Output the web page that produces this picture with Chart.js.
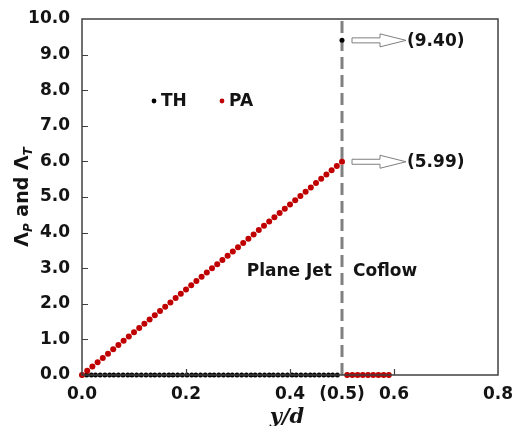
<!DOCTYPE html>
<html>
<head>
<meta charset="utf-8">
<script src="https://cdn.jsdelivr.net/npm/chart.js@4.4.0/dist/chart.umd.min.js"></script>
<style>
html, body { margin: 0; padding: 0; background: #fff; }
#wrap { width: 514px; height: 426px; }
</style>
</head>
<body>
<div id="wrap"><canvas id="chart"></canvas></div>
<script>
// PA series: plane jet part (0 to 0.5) then coflow part (0.51 to 0.59)
const paX = [0, 0.01, 0.02, 0.03, 0.04, 0.05, 0.06, 0.07, 0.08, 0.09,
    0.10, 0.11, 0.12, 0.13, 0.14, 0.15, 0.16, 0.17, 0.18, 0.19,
    0.20, 0.21, 0.22, 0.23, 0.24, 0.25, 0.26, 0.27, 0.28, 0.29,
    0.30, 0.31, 0.32, 0.33, 0.34, 0.35, 0.36, 0.37, 0.38, 0.39,
    0.40, 0.41, 0.42, 0.43, 0.44, 0.45, 0.46, 0.47, 0.48, 0.49, 0.50,
    0.51, 0.52, 0.53, 0.54, 0.55, 0.56, 0.57, 0.58, 0.59];
const paY = [0, 0.12, 0.24, 0.36, 0.48, 0.60, 0.72, 0.84, 0.96, 1.08,
    1.20, 1.32, 1.44, 1.56, 1.68, 1.80, 1.92, 2.04, 2.16, 2.28,
    2.40, 2.52, 2.64, 2.76, 2.88, 3.00, 3.11, 3.23, 3.35, 3.47,
    3.59, 3.71, 3.83, 3.95, 4.07, 4.19, 4.31, 4.43, 4.55, 4.67,
    4.79, 4.91, 5.03, 5.15, 5.27, 5.39, 5.51, 5.63, 5.75, 5.87, 5.99,
    0, 0, 0, 0, 0, 0, 0, 0, 0];

// TH series: zero across the jet, single value at the edge
const thX = [0, 0.009, 0.018, 0.026, 0.035, 0.044, 0.053, 0.061, 0.070, 0.079,
    0.088, 0.096, 0.105, 0.114, 0.123, 0.132, 0.140, 0.149, 0.158, 0.167,
    0.175, 0.184, 0.193, 0.202, 0.211, 0.219, 0.228, 0.237, 0.246, 0.254,
    0.263, 0.272, 0.281, 0.289, 0.298, 0.307, 0.316, 0.325, 0.333, 0.342,
    0.351, 0.360, 0.368, 0.377, 0.386, 0.395, 0.404, 0.412, 0.421, 0.430,
    0.439, 0.447, 0.456, 0.465, 0.474, 0.482, 0.491, 0.50];
const thY = [0, 0, 0, 0, 0, 0, 0, 0, 0, 0,
    0, 0, 0, 0, 0, 0, 0, 0, 0, 0,
    0, 0, 0, 0, 0, 0, 0, 0, 0, 0,
    0, 0, 0, 0, 0, 0, 0, 0, 0, 0,
    0, 0, 0, 0, 0, 0, 0, 0, 0, 0,
    0, 0, 0, 0, 0, 0, 0, 9.40];

const jetEdge = 0.5;
const xTicks = [0, 0.2, 0.4, 0.5, 0.6, 0.8];
const yTicks = [0, 1, 2, 3, 4, 5, 6, 7, 8, 9, 10];
const callouts = [9.40, 5.99];
const seriesNames = ['TH', 'PA'];
const regionNames = ['Plane Jet', 'Coflow'];

const textColor = '#141414';
const axisColor = '#404040';
const paColor = '#c00000';
const thColor = '#000000';
const sans = '"DejaVu Sans", sans-serif';

function toPoints(xs, ys) {
    return xs.map((x, i) => ({ x: x, y: ys[i] }));
}

const overlay = {
    id: 'overlay',
    afterDraw(chart) {
        const ctx = chart.ctx;
        const a = chart.chartArea;
        const xs = chart.scales.x;
        const ys = chart.scales.y;
        ctx.save();

        // frame
        ctx.strokeStyle = axisColor;
        ctx.lineWidth = 1.5;
        ctx.strokeRect(a.left, a.top, a.right - a.left, a.bottom - a.top);

        // inward tick marks
        ctx.lineWidth = 1.2;
        ctx.beginPath();
        yTicks.slice(1, -1).forEach(v => {
            const y = Math.round(ys.getPixelForValue(v)) + 0.5;
            ctx.moveTo(a.left, y);
            ctx.lineTo(a.left + 6, y);
        });
        [0.2, 0.4, 0.6].forEach(v => {
            const x = Math.round(xs.getPixelForValue(v)) + 0.5;
            ctx.moveTo(x, a.bottom);
            ctx.lineTo(x, a.bottom - 6);
        });
        ctx.stroke();

        // callout arrows
        const ex = xs.getPixelForValue(jetEdge);
        callouts.forEach(v => {
            const y = ys.getPixelForValue(v);
            const x0 = ex + 10, x1 = ex + 38, x2 = ex + 64;
            ctx.beginPath();
            ctx.moveTo(x0, y - 2.5);
            ctx.lineTo(x1, y - 2.5);
            ctx.lineTo(x1, y - 6.5);
            ctx.lineTo(x2, y);
            ctx.lineTo(x1, y + 6.5);
            ctx.lineTo(x1, y + 2.5);
            ctx.lineTo(x0, y + 2.5);
            ctx.closePath();
            ctx.fillStyle = '#fff';
            ctx.fill();
            ctx.strokeStyle = '#7f7f7f';
            ctx.lineWidth = 1;
            ctx.stroke();
            ctx.fillStyle = textColor;
            ctx.font = 'bold 17px ' + sans;
            ctx.textAlign = 'left';
            ctx.textBaseline = 'middle';
            ctx.fillText('(' + v.toFixed(2) + ')', x2 + 1, y + 1);
        });

        // region labels
        ctx.font = 'bold 17px ' + sans;
        ctx.fillStyle = textColor;
        ctx.textBaseline = 'middle';
        const ry = ys.getPixelForValue(2.9);
        ctx.textAlign = 'right';
        ctx.fillText(regionNames[0], ex - 10, ry);
        ctx.textAlign = 'left';
        ctx.fillText(regionNames[1], ex + 11, ry);

        // legend
        const ly = a.top + 82;
        [[a.left + 72, thColor], [a.left + 140, paColor]].forEach((d, i) => {
            ctx.beginPath();
            ctx.arc(d[0], ly, 2.4, 0, Math.PI * 2);
            ctx.fillStyle = d[1];
            ctx.fill();
            ctx.fillStyle = textColor;
            ctx.textAlign = 'left';
            ctx.font = 'bold 17px ' + sans;
            ctx.fillText(seriesNames[i], d[0] + 7, ly + 1);
        });

        // x title
        ctx.font = 'italic bold 21px "DejaVu Serif", serif';
        ctx.textAlign = 'center';
        ctx.textBaseline = 'alphabetic';
        ctx.fillText('y/d', (a.left + a.right) / 2 - 3, 423);

        // y title with subscripts
        const parts = [
            { t: 'Λ', f: 'bold 19px ' + sans, dy: 7 },
            { t: 'P', f: 'italic bold 12px ' + sans, dy: 11 },
            { t: ' and ', f: 'bold 19px ' + sans, dy: 7 },
            { t: 'Λ', f: 'bold 19px ' + sans, dy: 7 },
            { t: 'T', f: 'italic bold 12px ' + sans, dy: 11 }
        ];
        let total = 0;
        parts.forEach(p => { ctx.font = p.f; p.w = ctx.measureText(p.t).width; total += p.w; });
        ctx.translate(21, (a.top + a.bottom) / 2);
        ctx.rotate(-Math.PI / 2);
        ctx.textAlign = 'left';
        let px = -total / 2;
        parts.forEach(p => {
            ctx.font = p.f;
            ctx.fillText(p.t, px, p.dy);
            px += p.w;
        });
        ctx.restore();
    }
};

const ctx = document.getElementById('chart').getContext('2d');
new Chart(ctx, {
    type: 'scatter',
    data: {
        datasets: [
            {
                label: seriesNames[1],
                data: toPoints(paX, paY),
                backgroundColor: paColor,
                borderColor: paColor,
                pointRadius: 3,
                pointBorderWidth: 0,
                clip: false,
                order: 0
            },
            {
                label: seriesNames[0],
                data: toPoints(thX, thY),
                backgroundColor: thColor,
                borderColor: thColor,
                pointRadius: 2.5,
                pointBorderWidth: 0,
                clip: false,
                order: 1
            },
            {
                type: 'line',
                label: 'edge',
                data: [{ x: jetEdge, y: yTicks[0] }, { x: jetEdge, y: yTicks[yTicks.length - 1] }],
                borderColor: '#808080',
                borderWidth: 3,
                borderDash: [12, 6],
                pointRadius: 0,
                showLine: true,
                order: 2
            }
        ]
    },
    options: {
        responsive: true,
        maintainAspectRatio: false,
        animation: false,
        devicePixelRatio: 1,
        layout: { padding: { top: 19, right: 16, left: 0, bottom: 0 } },
        plugins: {
            legend: { display: false },
            tooltip: { enabled: false }
        },
        scales: {
            x: {
                type: 'linear',
                min: 0,
                max: 0.8,
                afterBuildTicks: scale => { scale.ticks = xTicks.map(v => ({ value: v })); },
                afterFit: scale => {
                    scale.height = 51;
                    scale.paddingLeft = 0;
                    scale.paddingRight = 0;
                },
                grid: { display: false, drawTicks: false },
                border: { display: false },
                ticks: {
                    autoSkip: false,
                    maxRotation: 0,
                    padding: 9,
                    color: textColor,
                    font: { family: sans, size: 17, weight: 'bold' },
                    callback: v => v === jetEdge ? '(0.5)' : v.toFixed(1)
                }
            },
            y: {
                min: 0,
                max: 10,
                afterBuildTicks: scale => { scale.ticks = yTicks.map(v => ({ value: v })); },
                afterFit: scale => {
                    scale.width = 82;
                    scale.paddingTop = 0;
                    scale.paddingBottom = 0;
                },
                grid: { display: false, drawTicks: false },
                border: { display: false },
                ticks: {
                    padding: 12,
                    color: textColor,
                    font: { family: sans, size: 17, weight: 'bold' },
                    callback: v => v.toFixed(1)
                }
            }
        }
    },
    plugins: [overlay]
});
</script>
</body>
</html>
